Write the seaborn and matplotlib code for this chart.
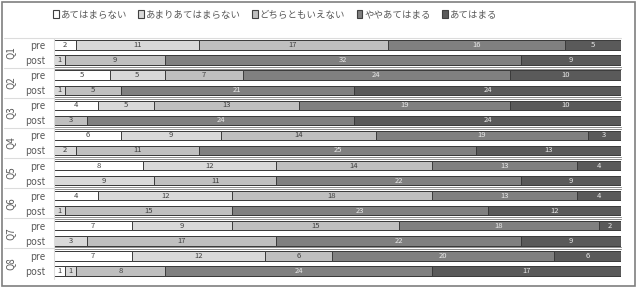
import numpy as np
import pandas as pd
import matplotlib
matplotlib.use("Agg")
import matplotlib.pyplot as plt
import seaborn as sns
from matplotlib.patches import Patch, Rectangle
from matplotlib import transforms

questions = ["Q1", "Q2", "Q3", "Q4", "Q5", "Q6", "Q7", "Q8"]
phases = ["pre", "post"]
categories = ["あてはまらない", "あまりあてはまらない", "どちらともいえない", "ややあてはまる", "あてはまる"]

# values per row: Q1 pre, Q1 post, Q2 pre, Q2 post, ...
cat1 = [2, 0, 5, 0, 4, 0, 6, 0, 8, 0, 4, 0, 7, 0, 7, 1]
cat2 = [11, 1, 5, 1, 5, 0, 9, 2, 12, 9, 12, 1, 9, 3, 12, 1]
cat3 = [17, 9, 7, 5, 13, 3, 14, 11, 14, 11, 18, 15, 15, 17, 6, 8]
cat4 = [16, 32, 24, 21, 19, 24, 19, 25, 13, 22, 13, 23, 18, 22, 20, 24]
cat5 = [5, 9, 10, 24, 10, 24, 3, 13, 4, 9, 4, 12, 2, 9, 6, 17]

colors = ["#ffffff", "#d9d9d9", "#bfbfbf", "#808080", "#5a5a5a"]
label_colors = ["#404040", "#404040", "#404040", "#e8e8e8", "#e8e8e8"]

sns.set_theme(style="white")
plt.rcParams["font.family"] = ["Noto Sans CJK JP", "DejaVu Sans"]

rows = [f"{q} {p}" for q in questions for p in phases]
values = np.array([cat1, cat2, cat3, cat4, cat5])
cum = values.cumsum(axis=0)

W, H = 644, 288
fig = plt.figure(figsize=(W / 100, H / 100), dpi=100)
ax = fig.add_axes([54 / W, 1 - 278.5 / H, 567 / W, (278.5 - 37.5) / H])

for i in reversed(range(5)):
    df = pd.DataFrame({"row": rows, "total": cum[i]})
    sns.barplot(data=df, x="total", y="row", order=rows, orient="h",
                color=colors[i], saturation=1, width=0.62, errorbar=None,
                edgecolor="#3a3a3a", linewidth=0.7, ax=ax)

for r in range(len(rows)):
    for i in range(5):
        v = values[i, r]
        if v > 0:
            ax.text(cum[i, r] - v / 2, r, str(v), ha="center", va="center",
                    fontsize=5.5, color=label_colors[i])

ax.set_xlim(0, 51)
ax.set_ylim(15.5, -0.5)
ax.set_xlabel("")
ax.set_ylabel("")
ax.set_xticks([])
ax.set_yticks(range(len(rows)))
ax.set_yticklabels([p for q in questions for p in phases], fontsize=7, color="#595959")
ax.tick_params(axis="y", length=0, pad=6)
for s in ax.spines.values():
    s.set_visible(False)

trans = transforms.blended_transform_factory(ax.transAxes, ax.transData)
for k, q in enumerate(questions):
    ax.text(-44 / 567, 2 * k + 0.5, q, rotation=90, ha="center", va="center",
            fontsize=7, color="#595959", transform=trans)

# separators
for k in range(1, 8):
    y = 2 * k - 0.5
    for dy in (-0.07, 0.07):
        ax.plot([0, 1], [y + dy, y + dy], color="#8c8c8c", lw=0.7,
                transform=trans, clip_on=False)
    ax.plot([-50 / 567, 0], [y, y], color="#dcdcdc", lw=0.8,
            transform=trans, clip_on=False)
ax.plot([-50 / 567, 1], [-0.5, -0.5], color="#dcdcdc", lw=0.8, transform=trans, clip_on=False)
ax.plot([0, 0], [-0.5, 15.5], color="#dcdcdc", lw=0.8, transform=trans, clip_on=False)

# outer frame
fig.patches.append(Rectangle((2 / W, 2 / H), 633 / W, 284 / H, transform=fig.transFigure,
                             fill=False, edgecolor="#7f7f7f", lw=1.2))

handles = [Patch(facecolor=c, edgecolor="#404040", lw=0.8) for c in colors]
fig.legend(handles, categories, loc="center", bbox_to_anchor=(275 / W, 1 - 15 / H),
           ncol=5, frameon=False, fontsize=6.8, handlelength=0.6, handleheight=0.9,
           handletextpad=0.2, columnspacing=1.2, labelcolor="#595959")

fig.savefig("out.png", dpi=100)
